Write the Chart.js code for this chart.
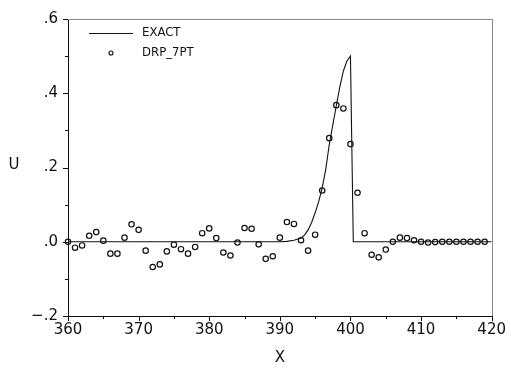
<!DOCTYPE html>
<html>
<head>
<meta charset="utf-8">
<script src="https://cdn.jsdelivr.net/npm/chart.js@4.4.1/dist/chart.umd.min.js"></script>
<style>
  html, body { margin: 0; padding: 0; background: #fff; }
  #chart { display: block; }
</style>
</head>
<body>
<canvas id="chart" width="511" height="370"></canvas>
<script>
// numerical solution, one value per grid point
const drpX = [360, 361, 362, 363, 364, 365, 366, 367, 368, 369,
              370, 371, 372, 373, 374, 375, 376, 377, 378, 379,
              380, 381, 382, 383, 384, 385, 386, 387, 388, 389,
              390, 391, 392, 393, 394, 395, 396, 397, 398, 399,
              400, 401, 402, 403, 404, 405, 406, 407, 408, 409,
              410, 411, 412, 413, 414, 415, 416, 417, 418, 419];
const drpU = [0.000, -0.016, -0.010, 0.016, 0.026, 0.003, -0.032, -0.032, 0.011, 0.047,
              0.032, -0.024, -0.068, -0.061, -0.026, -0.008, -0.020, -0.032, -0.014, 0.023,
              0.036, 0.010, -0.029, -0.037, -0.002, 0.037, 0.035, -0.007, -0.046, -0.039,
              0.011, 0.053, 0.048, 0.004, -0.024, 0.019, 0.138, 0.279, 0.368, 0.359,
              0.263, 0.132, 0.023, -0.035, -0.042, -0.021, 0.000, 0.011, 0.010, 0.004,
              0.000, -0.002, -0.001, 0.000, 0.000, 0.000, 0.000, 0.000, 0.000, 0.000];

// exact pulse
const exactX = [360, 390, 391, 392, 393, 393.5, 394, 394.5, 395, 395.5, 396, 396.5,
                397, 397.5, 398, 398.5, 399, 399.5, 400, 400.4, 420];
const exactU = [0, 0, 0.001, 0.004, 0.010, 0.018, 0.032, 0.052, 0.078, 0.108, 0.145, 0.195,
                0.262, 0.315, 0.367, 0.418, 0.460, 0.487, 0.5, 0, 0];

const seriesNames = ['EXACT', 'DRP_7PT'];

// axis ticks
const xMajor = [360, 370, 380, 390, 400, 410, 420];
const xMinor = [365, 375, 385, 395, 405, 415];
const yMajor = [-0.2, 0, 0.2, 0.4, 0.6];
const yMinor = [-0.1, 0.1, 0.3, 0.5];
const yLabels = {'-0.2': '\u2212.2', '0': '.0', '0.2': '.2', '0.4': '.4', '0.6': '.6'};

const tickFont = '"DejaVu Sans", sans-serif';
const narrowFont = '"Liberation Sans Narrow", "DejaVu Sans Condensed", sans-serif';
const ink = '#111';

function toPoints(xs, ys) {
    return xs.map(function(x, i) { return {x: x, y: ys[i]}; });
}

// ticks, frame, axis titles and legend
const decorations = {
    id: 'decorations',
    afterDraw: function(chart) {
        const ctx = chart.ctx;
        const area = chart.chartArea;
        const xs = chart.scales.x;
        const ys = chart.scales.y;
        const left = Math.round(area.left);
        const bottom = Math.round(area.bottom);
        ctx.save();

        // grey top and right frame
        ctx.fillStyle = '#8a8a8a';
        ctx.fillRect(left, Math.round(area.top), Math.round(area.right) - left + 1, 1);
        ctx.fillRect(Math.round(area.right), Math.round(area.top), 1, bottom - Math.round(area.top));

        // tick marks
        ctx.fillStyle = ink;
        yMajor.forEach(function(v) {
            ctx.fillRect(left - 5, Math.round(ys.getPixelForValue(v)), 5, 1);
        });
        yMinor.forEach(function(v) {
            ctx.fillRect(left - 3, Math.round(ys.getPixelForValue(v)), 3, 1);
        });
        xMajor.forEach(function(v) {
            ctx.fillRect(Math.round(xs.getPixelForValue(v)), bottom, 1, 5);
        });
        xMinor.forEach(function(v) {
            ctx.fillRect(Math.round(xs.getPixelForValue(v)), bottom, 1, 3);
        });

        // axis titles
        ctx.font = '15px ' + tickFont;
        ctx.textAlign = 'center';
        ctx.textBaseline = 'middle';
        ctx.fillText('U', 14, 165);
        ctx.fillText('X', (area.left + area.right) / 2, 358);

        // legend
        ctx.strokeStyle = ink;
        ctx.font = '13px ' + narrowFont;
        ctx.textAlign = 'left';
        ctx.lineWidth = 1.1;
        ctx.beginPath();
        ctx.moveTo(89, 33.5); ctx.lineTo(133, 33.5);
        ctx.stroke();
        ctx.fillText(chart.data.datasets[0].label, 142, 33);
        ctx.beginPath();
        ctx.arc(111, 53, 2, 0, Math.PI * 2);
        ctx.stroke();
        ctx.fillText(chart.data.datasets[1].label, 142, 53);

        ctx.restore();
    }
};

new Chart(document.getElementById('chart'), {
    type: 'scatter',
    data: {
        datasets: [{
            label: seriesNames[0],
            data: toPoints(exactX, exactU),
            showLine: true,
            borderColor: ink,
            borderWidth: 1.1,
            pointRadius: 0,
            tension: 0
        }, {
            label: seriesNames[1],
            data: toPoints(drpX, drpU),
            showLine: false,
            borderColor: ink,
            backgroundColor: 'rgba(0,0,0,0)',
            borderWidth: 1.2,
            pointRadius: 2.7,
            clip: 6
        }]
    },
    options: {
        responsive: false,
        animation: false,
        devicePixelRatio: 1,
        layout: { padding: { top: 12, right: 15, left: 0, bottom: 0 } },
        plugins: {
            legend: { display: false },
            tooltip: { enabled: false }
        },
        scales: {
            x: {
                type: 'linear',
                min: 360,
                max: 420,
                afterFit: function(scale) { scale.height = 54; },
                afterBuildTicks: function(scale) {
                    scale.ticks = xMajor.map(function(v) { return {value: v}; });
                },
                grid: { display: false, drawTicks: false },
                border: { display: true, color: ink, width: 1 },
                ticks: {
                    padding: 5,
                    color: ink,
                    font: { family: tickFont, size: 15 },
                    maxRotation: 0,
                    callback: function(v) { return String(v); }
                }
            },
            y: {
                type: 'linear',
                min: -0.2,
                max: 0.6,
                afterFit: function(scale) { scale.width = 68; },
                afterBuildTicks: function(scale) {
                    scale.ticks = yMajor.map(function(v) { return {value: v}; });
                },
                grid: { display: false, drawTicks: false },
                border: { display: true, color: ink, width: 1 },
                ticks: {
                    padding: 10,
                    color: ink,
                    font: { family: tickFont, size: 15 },
                    callback: function(v) {
                        const key = String(Math.round(v * 10) / 10);
                        return yLabels[key] !== undefined ? yLabels[key] : '';
                    }
                }
            }
        }
    },
    plugins: [decorations]
});
</script>
</body>
</html>
